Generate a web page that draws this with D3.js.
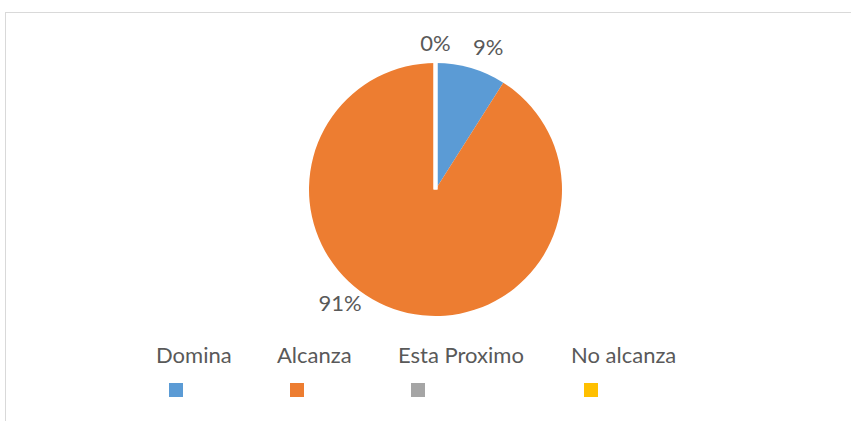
<!DOCTYPE html>
<html>
<head>
<meta charset="utf-8">
<script src="https://cdn.jsdelivr.net/npm/d3@7"></script>
<style>
	body { margin: 0; background: #fff; }
	text { font-family: Lato, "Open Sans", sans-serif; fill: #595959; }
</style>
</head>
<body>
<div id="chart"></div>
<script>
var categories = ['Domina', 'Alcanza', 'Esta Proximo', 'No alcanza'];
var values = [9, 91, 0, 0];
var colors = ['#5B9BD5', '#ED7D31', '#A5A5A5', '#FFC000'];

var width = 851,
	height = 421,
	cx = 435.5,
	cy = 189.5,
	radius = 126.5,
	fontSize = 22;

var svg = d3.select('#chart').append('svg')
	.attr('width', width)
	.attr('height', height);

//Chart frame, runs off the right and bottom edge
svg.append('rect')
	.attr('x', 5.5).attr('y', 12.5)
	.attr('width', 1000).attr('height', 1000)
	.attr('fill', 'none')
	.attr('stroke', '#D9D9D9');

var data = categories.map(function(c, i) { return {name: c, value: values[i], color: colors[i]}; });
var total = d3.sum(values);

var pie = d3.pie().sort(null).value(function(d) { return d.value; });
var arc = d3.arc().innerRadius(0).outerRadius(radius);
var arcs = pie(data);

var g = svg.append('g').attr('transform', 'translate(' + cx + ',' + cy + ')');

g.selectAll('path.slice')
	.data(arcs)
	.enter().append('path')
	.attr('class', 'slice')
	.attr('d', arc)
	.attr('fill', function(d) { return d.data.color; })
	.attr('stroke', '#fff')
	.attr('stroke-width', function(d) { return d.value === 0 ? 4 : 0; });

//Labels: outside the slice, the big one sits lower-left like Excel's best fit
var fmt = d3.format('.0%');
function labelPos(d) {
	var mid = (d.startAngle + d.endAngle) / 2;
	var r = radius + 12, dy = 0, anchor = 'middle';
	if (d.value / total > 0.5) { mid = 220 / 180 * Math.PI; r = radius + 22; }
	else if (d.value > 0) { anchor = 'start'; r = radius + 8; dy = -5; }
	return {
		x: Math.sin(mid) * r,
		y: -Math.cos(mid) * r + dy,
		anchor: anchor
	};
}

//zero slices stack on the same spot, keep one label for them
var shown = arcs.filter(function(d, i) {
	return d.value > 0 || !arcs.slice(i + 1).some(function(e) { return e.value === 0; });
});

g.selectAll('text.lbl')
	.data(shown)
	.enter().append('text')
	.attr('class', 'lbl')
	.attr('font-size', fontSize)
	.each(function(d) {
		var p = labelPos(d);
		d3.select(this)
			.attr('x', p.x)
			.attr('y', p.y)
			.attr('text-anchor', p.anchor)
			.attr('dy', d.value / total > 0.5 ? '0.35em' : 0);
	})
	.text(function(d) { return fmt(d.value / total); });

//Legend: names on one row, swatches below
var legendStarts = [156, 277, 398, 571];
var legend = svg.selectAll('g.legend')
	.data(data)
	.enter().append('g')
	.attr('class', 'legend')
	.attr('transform', function(d, i) { return 'translate(' + legendStarts[i] + ',0)'; });

legend.append('text')
	.attr('x', 0)
	.attr('y', 363)
	.attr('font-size', fontSize)
	.text(function(d) { return d.name; });

legend.append('rect')
	.attr('x', 13)
	.attr('y', 383)
	.attr('width', 14)
	.attr('height', 14)
	.attr('fill', function(d) { return d.color; });
</script>
</body>
</html>
